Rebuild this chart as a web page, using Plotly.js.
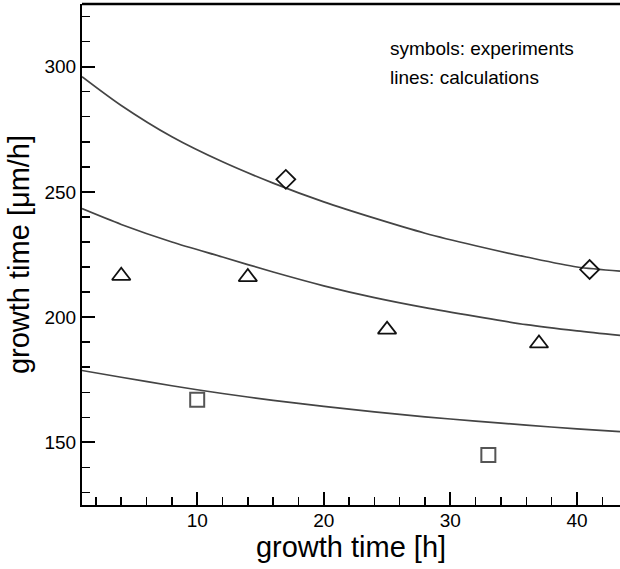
<!DOCTYPE html>
<html>
<head>
<meta charset="utf-8">
<script src="https://cdn.plot.ly/plotly-3.0.1.min.js"></script>
<style>html,body{margin:0;padding:0;background:#fff;}#chart{width:620px;height:569px;}</style>
</head>
<body>
<div id="chart"></div>
<script>
// experiments (symbols)
var diamondX = [17, 41];
var diamondY = [255, 219];
var triangleX = [4, 14, 25, 37];
var triangleY = [216.5, 216, 195, 189.5];
var squareX = [10, 33];
var squareY = [167, 145];

// calculations (lines)
var calcX = [0.9, 4, 8, 12, 16, 20, 24, 28, 32, 36, 40, 43.4];
var calcTop = [296, 284.5, 272, 262, 253.5, 246, 239.5, 233.5, 228.5, 224, 220, 218.4];
var calcMid = [243.3, 237, 230, 224, 218, 212.5, 207.8, 203.8, 200.3, 197, 194.5, 192.7];
var calcBot = [178.7, 176, 172.6, 169.5, 166.8, 164.4, 162.2, 160.2, 158.5, 156.9, 155.4, 154.3];

var xTickVals = [10, 20, 30, 40];
var yTickVals = [150, 200, 250, 300];

var FONT = 'Liberation Sans, Arial, Helvetica, sans-serif';
var lineStyle = {color: '#444', width: 1.7, shape: 'spline', smoothing: 0.8};

var traces = [
  {x: calcX, y: calcTop, mode: 'lines', line: lineStyle, hoverinfo: 'skip'},
  {x: calcX, y: calcMid, mode: 'lines', line: lineStyle, hoverinfo: 'skip'},
  {x: calcX, y: calcBot, mode: 'lines', line: lineStyle, hoverinfo: 'skip'},
  {x: diamondX, y: diamondY, mode: 'markers', cliponaxis: false,
   marker: {symbol: 'diamond-open', size: 14.5, color: '#111', line: {width: 1.8, color: '#111'}}},
  {x: triangleX, y: triangleY, mode: 'markers', cliponaxis: false,
   marker: {symbol: 'triangle-up-open', size: 16, color: '#111', line: {width: 1.8, color: '#111'}}},
  {x: squareX, y: squareY, mode: 'markers', cliponaxis: false,
   marker: {symbol: 'square-open', size: 14, color: '#555', line: {width: 2, color: '#555'}}}
];

var layout = {
  width: 620, height: 569,
  margin: {l: 82, r: 0, t: 4, b: 64},
  paper_bgcolor: '#fff', plot_bgcolor: '#fff',
  showlegend: false,
  font: {family: FONT, color: '#000', size: 19},
  xaxis: {
    range: [0.9, 43.4],
    tickvals: xTickVals,
    ticks: 'inside', ticklen: 13, tickwidth: 2, tickcolor: '#000',
    minor: {dtick: 2, tick0: 0, ticks: 'inside', ticklen: 8, tickwidth: 1.5, tickcolor: '#000'},
    showline: true, linecolor: '#000', linewidth: 2,
    showgrid: false, zeroline: false,
    ticklabelstandoff: -3,
    tickfont: {family: FONT, size: 19, color: '#000'},
    title: {text: 'growth time [h]', font: {family: FONT, size: 29, color: '#000'}, standoff: 2}
  },
  yaxis: {
    range: [125, 325],
    tickvals: yTickVals,
    ticks: 'inside', ticklen: 13, tickwidth: 2, tickcolor: '#000',
    minor: {dtick: 10, tick0: 0, ticks: 'inside', ticklen: 8, tickwidth: 1.5, tickcolor: '#000'},
    showline: true, linecolor: '#000', linewidth: 2,
    showgrid: false, zeroline: false,
    tickfont: {family: FONT, size: 19, color: '#000'},
    title: {text: 'growth time [μm/h]', font: {family: FONT, size: 29, color: '#000'}, standoff: 6}
  },
  shapes: [
    {type: 'line', xref: 'paper', yref: 'paper', x0: 0, x1: 1, y0: 1, y1: 1,
     line: {color: '#000', width: 2.5}}
  ],
  annotations: [
    {xref: 'paper', yref: 'paper', x: 0.569, y: 0.912, xanchor: 'left', yanchor: 'middle',
     showarrow: false, text: 'symbols: experiments', font: {family: FONT, size: 19, color: '#000'}},
    {xref: 'paper', yref: 'paper', x: 0.569, y: 0.853, xanchor: 'left', yanchor: 'middle',
     showarrow: false, text: 'lines: calculations', font: {family: FONT, size: 19, color: '#000'}}
  ]
};

Plotly.newPlot('chart', traces, layout, {staticPlot: true, displayModeBar: false});
</script>
</body>
</html>
